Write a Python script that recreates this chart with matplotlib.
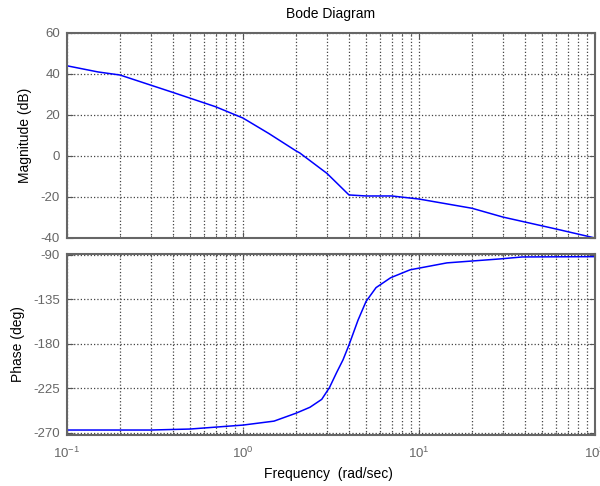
import matplotlib
matplotlib.use("Agg")
import matplotlib.pyplot as plt
from matplotlib.ticker import LogLocator, NullFormatter

plt.rcParams['font.family'] = ['Liberation Sans', 'DejaVu Sans']
plt.rcParams['axes.unicode_minus'] = False

# values
mag_freq = [0.1, 0.15, 0.2, 0.4, 0.7, 1.0, 1.4, 2.0, 2.1, 3.0, 4.0, 5.0, 7.0, 10, 20, 30, 60, 100]
mag_db = [44, 41, 39.5, 31, 24, 18.5, 11, 2.5, 1.5, -8.5, -19, -19.5, -19.5, -21, -25.5, -29.8, -35.6, -40]

ph_freq = [0.1, 0.3, 0.5, 1.0, 1.5, 2.0, 2.4, 2.8, 3.1, 3.4, 3.7, 4.0, 4.5, 5.0, 5.7, 6.9, 8.9, 14.4, 28.8, 38.6, 100]
ph_deg = [-267, -267, -266, -262, -258, -250, -244, -236, -224, -209, -196, -181, -156, -137, -123, -113, -105, -98, -94, -92, -91.7]

mag_ticks = [-40, -20, 0, 20, 40, 60]
ph_ticks = [-270, -225, -180, -135, -90]

fig = plt.figure(figsize=(6, 4.86), dpi=100)
ax1 = fig.add_axes([0.1117, 0.5103, 0.88, 0.4218])
ax2 = fig.add_axes([0.1117, 0.105, 0.88, 0.3724])

for ax in (ax1, ax2):
    ax.set_xscale('log')
    ax.set_xlim(0.1, 100)
    ax.xaxis.set_major_locator(LogLocator(base=10))
    ax.xaxis.set_minor_locator(LogLocator(base=10, subs=range(2, 10)))
    ax.xaxis.set_minor_formatter(NullFormatter())
    ax.grid(True, which='both', axis='x', linestyle=':', color='#444444', linewidth=0.9)
    ax.grid(True, which='major', axis='y', linestyle=':', color='#444444', linewidth=0.9)
    ax.tick_params(which='both', direction='in', top=True, right=True,
                   colors='#555555', labelcolor='#666666', labelsize=9.5)
    ax.tick_params(which='major', length=4, pad=5)
    ax.tick_params(which='minor', length=2)
    ax.tick_params(axis='x', which='major', pad=8)
    for s in ax.spines.values():
        s.set_color('#666666')
        s.set_linewidth(1.5)

ax1.plot(mag_freq, mag_db, color='#0000ff', linewidth=1.1)
ax1.set_ylim(-40, 60)
ax1.set_yticks(mag_ticks)
ax1.tick_params(labelbottom=False)
ax1.set_ylabel("Magnitude (dB)", fontsize=10, labelpad=6)
ax1.set_title("Bode Diagram", fontsize=10, pad=11)

ax2.plot(ph_freq, ph_deg, color='#0000ff', linewidth=1.1)
ax2.set_ylim(-272, -89)
ax2.set_yticks(ph_ticks)
ax2.set_ylabel("Phase (deg)", fontsize=10, labelpad=6)

fig.text(0.548, 0.024, "Frequency  (rad/sec)", fontsize=10, ha='center', va='center')

fig.savefig("out.png", dpi=100)
